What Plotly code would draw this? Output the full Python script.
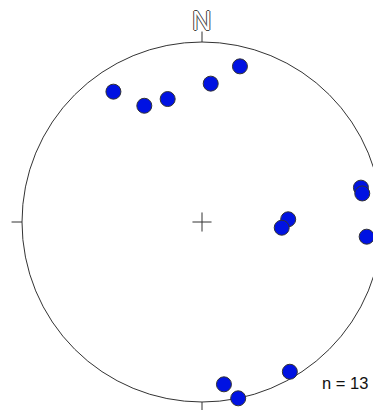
import numpy as np
import plotly.graph_objects as go

# Lineations: trend (azimuth, degrees) and plunge (degrees)
trend = [325.8, 333.6, 344.4, 3.6, 13.7, 77.8, 79.9, 88.2, 94.1, 95.1, 172.3, 168.4, 149.6]
plunge = [13.5, 28.7, 29.8, 24.0, 12.0, 10.6, 10.5, 50.4, 53.4, 9.0, 9.9, 0.0, 4.0]
count_label = "n = 13"
north_label = "N"

# Lambert equal-area (Schmidt) projection, lower hemisphere, unit primitive circle
t = np.radians(trend)
p = np.radians(plunge)
r = np.sqrt(2.0) * np.sin((np.pi / 2 - p) / 2.0)
x = r * np.sin(t)
y = r * np.cos(t)

fig = go.Figure()

fig.add_trace(go.Scatter(
    x=x, y=y, mode="markers",
    marker=dict(size=15, color="rgb(0,18,226)",
                line=dict(color="#333333", width=1)),
    hoverinfo="skip", showlegend=False,
))

line_style = dict(color="#333333", width=1)
# primitive circle
fig.add_shape(type="circle", x0=-1, y0=-1, x1=1, y1=1, line=line_style, layer="below")
# cardinal ticks
tk = 0.058
for (ax, ay) in [(-1, 0), (1, 0), (0, 1), (0, -1)]:
    fig.add_shape(type="line", x0=ax, y0=ay, x1=ax * (1 + tk), y1=ay * (1 + tk),
                  line=line_style, layer="below")
# centre cross
c = 0.053
fig.add_shape(type="line", x0=-c, y0=0, x1=c, y1=0, line=line_style, layer="below")
fig.add_shape(type="line", x0=0, y0=-c, x1=0, y1=c, line=line_style, layer="below")

# outlined north letter
fig.add_annotation(
    x=0, y=1.118, text=north_label, showarrow=False,
    xanchor="center", yanchor="middle",
    font=dict(family="Liberation Sans", size=27, color="white",
              shadow="1px 0 0 #444, -1px 0 0 #444, 0 1px 0 #444, 0 -1px 0 #444"),
)
fig.add_annotation(
    x=0.655, y=-0.895, text=count_label, showarrow=False,
    xanchor="left", yanchor="middle",
    font=dict(family="Liberation Sans", size=16.5, color="#111111"),
)

fig.update_xaxes(range=[-202 / 180, 171 / 180], visible=False, fixedrange=True)
fig.update_yaxes(range=[-188 / 180, 222 / 180], visible=False, fixedrange=True)
fig.update_layout(
    width=373, height=410, margin=dict(l=0, r=0, t=0, b=0),
    paper_bgcolor="white", plot_bgcolor="white",
)

fig.write_html("out.html")
